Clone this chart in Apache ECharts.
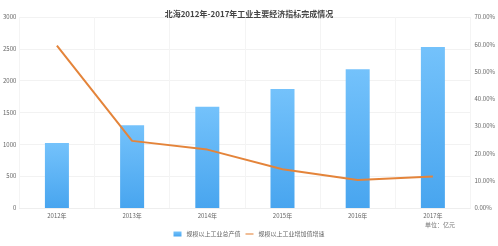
<!DOCTYPE html>
<html><head><meta charset="utf-8">
<script src="https://cdn.jsdelivr.net/npm/echarts@6/dist/echarts.min.js"></script>
<style>html,body{margin:0;padding:0;background:#fff}#c{width:498px;height:246px}</style>
</head><body><div id="c"></div>
<script>
var categories = ['2012年','2013年','2014年','2015年','2016年','2017年'];
var outputValue = [1020, 1300, 1590, 1870, 2180, 2530];
var growthRate = [59.5, 24.6, 21.4, 14.2, 10.3, 11.5];
var leftTicks = [0, 500, 1000, 1500, 2000, 2500, 3000];
var rightTicks = [0, 10, 20, 30, 40, 50, 60, 70];
var seriesNames = ['规模以上工业总产值', '规模以上工业增加值增速'];
var titleText = '北海2012年-2017年工业主要经济指标完成情况';
var unitText = '单位：亿元';

var chart = echarts.init(document.getElementById('c'), null, {renderer:'canvas'});
var font = '"Noto Sans CJK SC", "Noto Sans", sans-serif';
chart.setOption({
  backgroundColor:'#fff',
  animation:false,
  textStyle:{fontFamily:font},
  title:{text:titleText,left:'center',top:5,textStyle:{fontSize:8,fontWeight:'bold',color:'#444',fontFamily:font}},
  legend:{bottom:4,left:'center',itemWidth:8,itemHeight:5,itemGap:5,
    textStyle:{fontSize:6,color:'#666',fontFamily:font},
    data:[{name:seriesNames[0],icon:'rect'},{name:seriesNames[1],icon:'path://M0,4.2L12,4.2L12,5.8L0,5.8Z'}]},
  graphic:[{type:'text',left:425,top:222,style:{text:unitText,fontSize:6,fill:'#777',fontFamily:font}}],
  grid:{left:18,right:24,top:17,bottom:38,containLabel:false},
  xAxis:{type:'category',data:categories,
    axisLine:{show:true,lineStyle:{color:'#eee'}},axisTick:{show:false},
    splitLine:{show:true,lineStyle:{color:'#f4f4f4'}},
    axisLabel:{fontSize:6,color:'#666',margin:5}},
  yAxis:[
    {type:'value',min:leftTicks[0],max:leftTicks[leftTicks.length-1],interval:500,
     axisLine:{show:false},axisTick:{show:false},
     splitLine:{lineStyle:{color:'#f2f2f2'}},
     axisLabel:{fontSize:6,color:'#666',margin:3,formatter:function(v){return String(v);}}},
    {type:'value',min:rightTicks[0],max:rightTicks[rightTicks.length-1],interval:10,
     axisLine:{show:false},axisTick:{show:false},splitLine:{show:false},
     axisLabel:{fontSize:6,color:'#666',margin:4,formatter:function(v){return v.toFixed(2)+'%';}}}
  ],
  series:[
    {name:seriesNames[0],type:'bar',data:outputValue,barWidth:24,
     itemStyle:{color:new echarts.graphic.LinearGradient(0,0,0,1,[{offset:0,color:'#74c2fb'},{offset:1,color:'#48a5ef'}])}},
    {name:seriesNames[1],type:'line',yAxisIndex:1,data:growthRate,symbol:'none',
     lineStyle:{color:'#e4843a',width:2},itemStyle:{color:'#e4843a'}}
  ]
});
</script></body></html>
